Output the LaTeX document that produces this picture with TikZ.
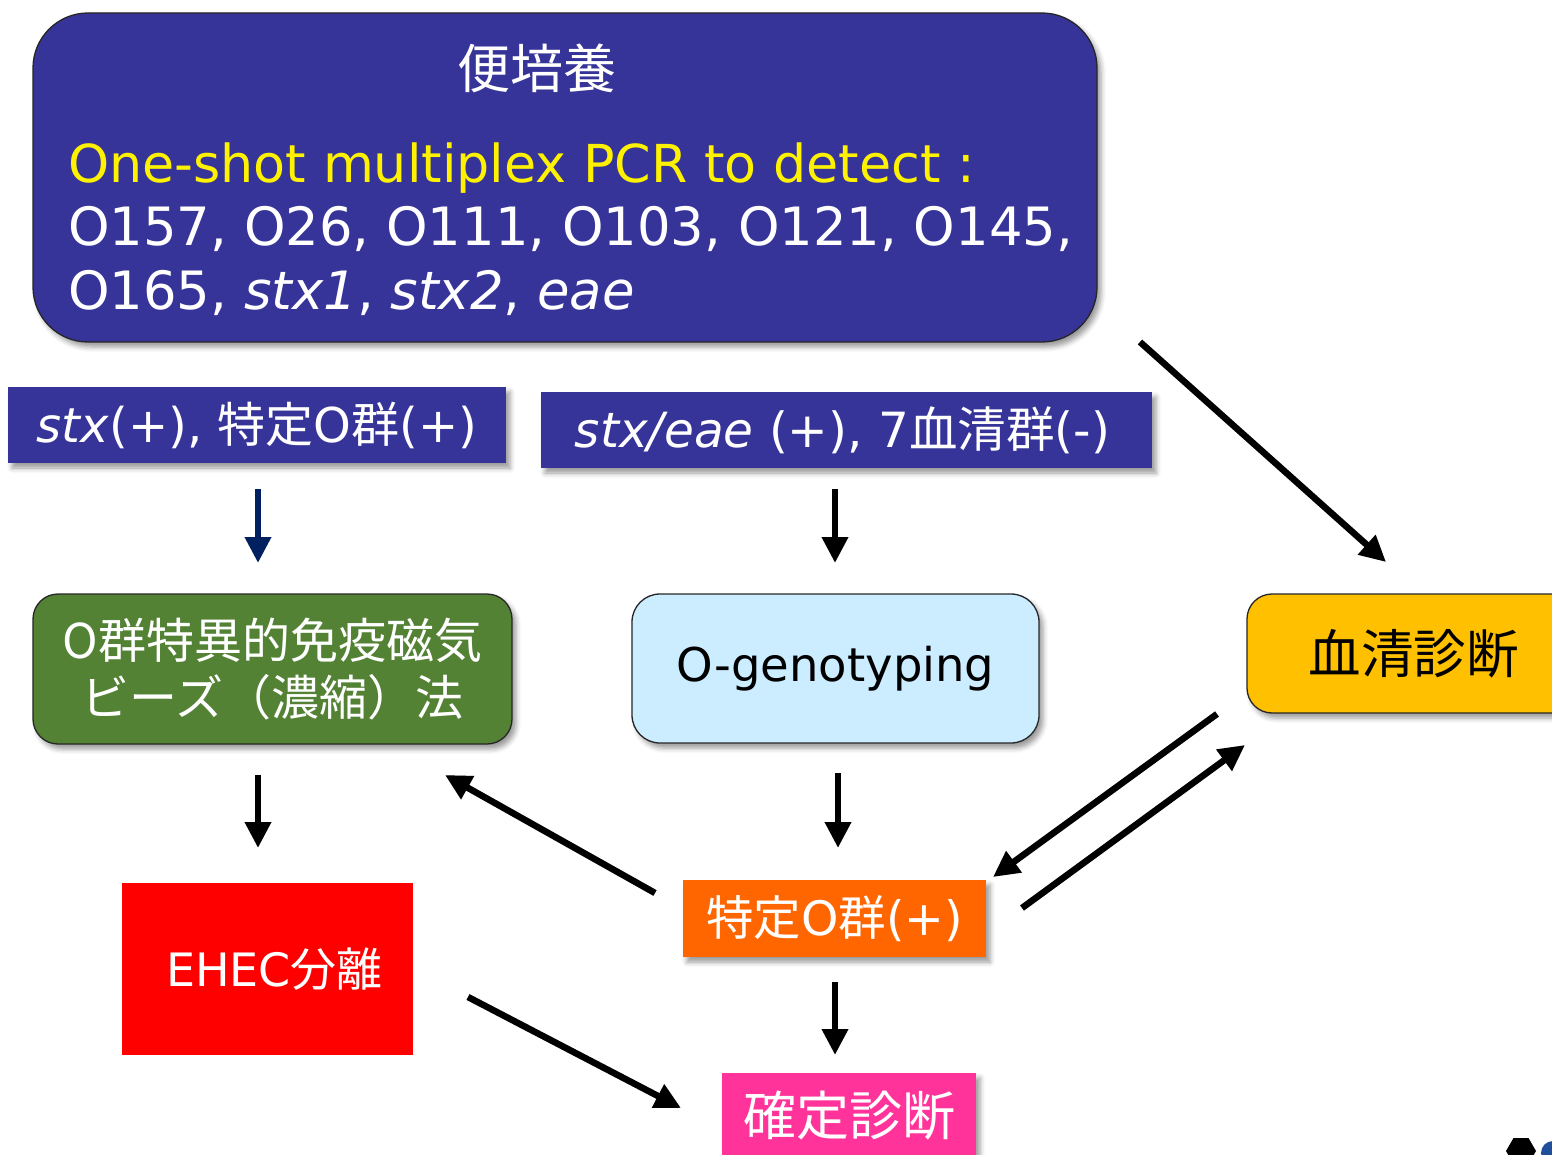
\documentclass[tikz,border=0pt]{standalone}
\usepackage{fontspec}
\setmainfont{DejaVu Sans}[ItalicFont={DejaVu Sans Oblique}]
\newfontfamily\jp{Noto Sans CJK JP}
\usetikzlibrary{arrows.meta,shadows.blur,shapes.geometric}

\definecolor{indigo}{RGB}{54,52,152}
\definecolor{leaf}{RGB}{84,130,53}
\definecolor{skyfill}{RGB}{204,236,255}
\definecolor{amber}{RGB}{255,192,0}
\definecolor{tangerine}{RGB}{255,102,0}
\definecolor{brightred}{RGB}{255,0,0}
\definecolor{rose}{RGB}{255,51,153}
\definecolor{navyarrow}{RGB}{0,32,96}
\definecolor{logoblue}{RGB}{31,78,154}

\newcommand{\fsz}[2]{\fontsize{#1}{#2}\selectfont}

\tikzset{
  softshadow/.style={blur shadow={shadow xshift=4pt,shadow yshift=-5pt,
      shadow blur radius=5pt,shadow opacity=40}},
  panel/.style={draw=black!85,line width=1.3pt,softshadow,inner sep=0pt},
  flatbox/.style={inner sep=0pt,softshadow},
  plainbox/.style={inner sep=0pt},
  flowarrow/.style={line width=6.5pt,-{Triangle[width=25pt,length=26pt]}},
}

\begin{document}
\begin{tikzpicture}[x=1pt,y=-1pt]
\useasboundingbox (0,0) rectangle (1552,1155);
\clip (0,0) rectangle (1552,1155);

% top panel: stool culture + multiplex PCR
\node[panel,fill=indigo,rounded corners=55pt,minimum width=1064pt,minimum height=329pt]
  (culture) at (565,177.5) {};
\node[text=white,font=\jp\fsz{53}{60}] (cultitle) at (537,68) {便培養};
\node[anchor=base west,text=yellow,inner sep=0pt,font=\fsz{52.3}{60}] (pcrline) at (68,183)
  {One-shot multiplex PCR to detect :};
\node[anchor=base west,text=white,inner sep=0pt,font=\fsz{52.8}{60}] (olist) at (68,246)
  {O157, O26, O111, O103, O121, O145,};
\node[anchor=base west,text=white,inner sep=0pt,font=\fsz{52.8}{60}] (genes) at (68,310)
  {O165, \textit{stx1}, \textit{stx2}, \textit{eae}};

% result labels
\node[flatbox,fill=indigo,text=white,minimum width=498pt,minimum height=76pt,font=\fsz{48}{54}]
  (lblA) at (257,425) {\textit{stx}(+), {\jp 特定}O{\jp 群}(+)};
\node[flatbox,fill=indigo,text=white,minimum width=611pt,minimum height=76pt,font=\fsz{48.5}{54}]
  (lblB) at (846.5,430) {\hspace{-8pt}\textit{stx/eae} (+), 7{\jp 血清群}(-)};

% method boxes
\node[panel,fill=leaf,text=white,rounded corners=25pt,minimum width=479pt,minimum height=150pt,
  align=center,font=\jp\fsz{48}{57}] (beads) at (272.5,669)
  {O群特異的免疫磁気\\ビーズ（濃縮）法};
\node[panel,fill=skyfill,text=black,rounded corners=28pt,minimum width=407pt,minimum height=149pt,
  font=\fsz{46.5}{52}] (ogeno) at (835.5,668.5) {\raisebox{-3pt}{O-genotyping}};
\node[panel,fill=amber,text=black,rounded corners=25pt,minimum width=333pt,minimum height=119pt,
  font=\jp\fsz{52.5}{60}] (serodx) at (1413.5,653.5) {血清診断};

% outcomes
\node[flatbox,fill=tangerine,text=white,minimum width=303pt,minimum height=77pt,font=\fsz{47.5}{52}]
  (specO) at (834.5,918.5) {{\jp 特定}O{\jp 群}(+)};
\node[plainbox,fill=brightred,text=white,minimum width=291pt,minimum height=172pt,font=\fsz{46}{52}]
  (ehec) at (267.5,969) {\hspace{14pt}EHEC{\jp 分離}};
\node[flatbox,fill=rose,text=white,minimum width=254pt,minimum height=86pt,font=\jp\fsz{53}{60}]
  (confirm) at (849,1116) {確定診断};

% arrow end points
\coordinate (a1s) at (258,489);  \coordinate (a1e) at (258,563);
\coordinate (a2s) at (835,489);  \coordinate (a2e) at (835,563);
\coordinate (a3s) at (1140,342); \coordinate (a3e) at (1386,562);
\coordinate (a4s) at (258,775);  \coordinate (a4e) at (258,848);
\coordinate (a5s) at (838,773);  \coordinate (a5e) at (838,848);
\coordinate (a6s) at (655,893);  \coordinate (a6e) at (445,775);
\coordinate (a7s) at (1217,714); \coordinate (a7e) at (993,877);
\coordinate (a8s) at (1022,908); \coordinate (a8e) at (1245,745);
\coordinate (a9s) at (835,982);  \coordinate (a9e) at (835,1055);
\coordinate (a10s) at (468,997); \coordinate (a10e) at (681,1108);

% faint shadows under the arrows
\begin{scope}[black,opacity=0.18,shift={(3,4)}]
  \foreach \s/\e in {a1s/a1e,a2s/a2e,a3s/a3e,a4s/a4e,a5s/a5e,a6s/a6e,a7s/a7e,a8s/a8e,a9s/a9e,a10s/a10e}
    \draw[flowarrow] (\s) -- (\e);
\end{scope}

\draw[flowarrow,navyarrow] (a1s) -- (a1e);
\draw[flowarrow] (a2s) -- (a2e);
\draw[flowarrow] (a3s) -- (a3e);
\draw[flowarrow] (a4s) -- (a4e);
\draw[flowarrow] (a5s) -- (a5e);
\draw[flowarrow] (a6s) -- (a6e);
\draw[flowarrow] (a7s) -- (a7e);
\draw[flowarrow] (a8s) -- (a8e);
\draw[flowarrow] (a9s) -- (a9e);
\draw[flowarrow] (a10s) -- (a10e);

% corner logo fragment
\node[regular polygon,regular polygon sides=6,shape border rotate=0,fill=black,
  minimum size=30pt,inner sep=0pt] (logohex) at (1521,1151) {};
\node[circle,fill=logoblue,minimum size=24pt,inner sep=0pt] (logodot) at (1553,1153) {};
\end{tikzpicture}
\end{document}
